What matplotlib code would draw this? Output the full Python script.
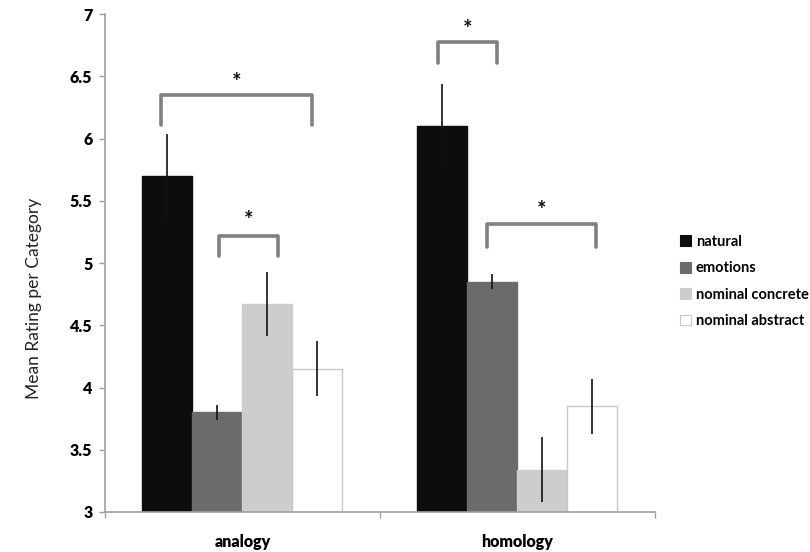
import matplotlib
matplotlib.use('Agg')
import matplotlib.pyplot as plt
import numpy as np
from matplotlib.patches import Patch

plt.rcParams['font.family'] = ['Lato', 'DejaVu Sans']

# Mean ratings and error bars per category
categories = ['analogy', 'homology']
series = ['natural', 'emotions', 'nominal concrete', 'nominal abstract']
natural = [5.70, 6.10]
emotions = [3.80, 4.85]
nominal_concrete = [4.67, 3.34]
nominal_abstract = [4.15, 3.85]
natural_err = [0.34, 0.34]
emotions_err = [0.06, 0.06]
nominal_concrete_err = [0.26, 0.26]
nominal_abstract_err = [0.22, 0.22]

means = [natural, emotions, nominal_concrete, nominal_abstract]
errs = [natural_err, emotions_err, nominal_concrete_err, nominal_abstract_err]
colors = ['#0d0d0d', '#6b6b6b', '#cdcdcd', '#ffffff']
edges = ['#0d0d0d', '#6b6b6b', '#cdcdcd', '#c8c8c8']

# significance brackets: (x left, x right, leg bottom, bar top, star y)
brackets = [
    (-0.296, 0.253, 6.11, 6.35, 6.45),
    (-0.085, 0.130, 5.06, 5.22, 5.34),
    (1 - 0.290, 1 - 0.076, 6.61, 6.775, 6.88),
    (1 - 0.112, 1 + 0.285, 5.13, 5.31, 5.42),
]

fig = plt.figure(figsize=(8.1, 5.52), dpi=100)
ax = fig.add_axes([0.1296, 0.0725, 0.679, 0.902])

x = np.arange(len(categories))
width = 50 / 275
for i, (m, e) in enumerate(zip(means, errs)):
    pos = x + (i - 1.5) * width
    ax.bar(pos, np.array(m) - 3, width, bottom=3, color=colors[i],
           edgecolor=edges[i], linewidth=1.0, label=series[i], zorder=2)
    ax.errorbar(pos, m, yerr=e, fmt='none', ecolor='#111111',
                elinewidth=1.2, capsize=0, zorder=3)

for x0, x1, leg, top, star in brackets:
    ax.plot([x0, x0, x1, x1], [leg, top, top, leg], color='#808080', lw=2.6,
            solid_joinstyle='round', solid_capstyle='round', zorder=4)
    ax.text((x0 + x1) / 2, star, '*', ha='center', va='center',
            fontsize=16, fontweight='bold', color='#111111')

ax.set_xlim(-0.5, 1.5)
ax.set_ylim(3, 7)
yt = np.arange(3, 7.01, 0.5)
ax.set_yticks(yt)
ax.set_yticklabels(['%g' % v for v in yt], fontsize=11.5, fontweight='heavy')

ax.set_xticks([-0.5, 0.5, 1.5])
ax.set_xticklabels([])
ax.set_xticks(x, minor=True)
ax.set_xticklabels(categories, minor=True, fontsize=11.5, fontweight='heavy')
ax.tick_params(axis='x', which='minor', length=0, pad=16)
ax.tick_params(axis='both', which='major', direction='out', length=4,
               color='#a0a0a0', width=1)
ax.tick_params(axis='y', pad=5)

for s in ['top', 'right']:
    ax.spines[s].set_visible(False)
for s in ['left', 'bottom']:
    ax.spines[s].set_color('#a0a0a0')
    ax.spines[s].set_linewidth(1.2)

ax.set_ylabel('Mean Rating per Category', fontsize=12.5, color='#222222')
ax.yaxis.set_label_coords(-0.115, 0.43)

handles = [Patch(facecolor=c, edgecolor=ed, linewidth=0.8) for c, ed in zip(colors, edges)]
fig.legend(handles, series, loc='center left', bbox_to_anchor=(0.823, 0.49),
           frameon=False, prop={'size': 10.5, 'weight': 'bold'},
           handlelength=0.75, handleheight=0.75, handletextpad=0.35,
           labelspacing=0.85)

fig.savefig('out.png', dpi=100)
